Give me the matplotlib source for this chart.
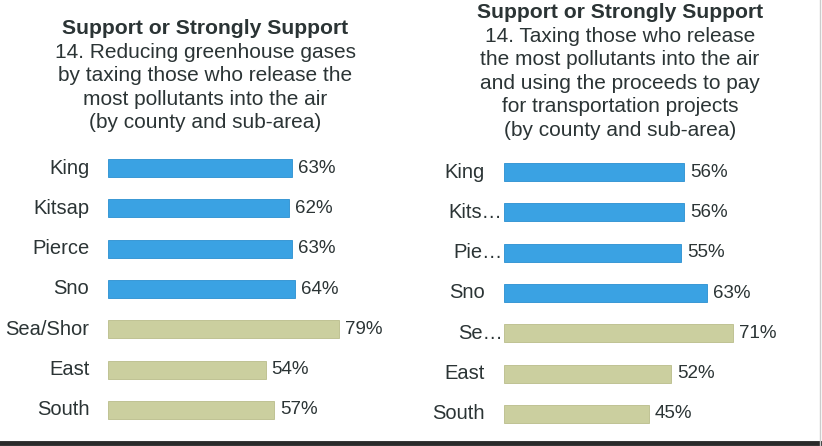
import matplotlib.pyplot as plt
from matplotlib.lines import Line2D

plt.rcParams['font.family'] = ['Liberation Sans', 'DejaVu Sans']

# data
areas_left = ['King', 'Kitsap', 'Pierce', 'Sno', 'Sea/Shor', 'East', 'South']
support_left = [63, 62, 63, 64, 79, 54, 57]

areas_right = ['King', 'Kits\u2026', 'Pie\u2026', 'Sno', 'Se\u2026', 'East', 'South']
support_right = [56, 56, 55, 63, 71, 52, 45]

is_county = [True, True, True, True, False, False, False]

title_left = ['Support or Strongly Support',
              '14. Reducing greenhouse gases',
              'by taxing those who release the',
              'most pollutants into the air',
              '(by county and sub-area)']
title_right = ['Support or Strongly Support',
               '14. Taxing those who release',
               'the most pollutants into the air',
               'and using the proceeds to pay',
               'for transportation projects',
               '(by county and sub-area)']

blue = '#3aa2e3'
khaki = '#cbcf9f'
txt = '#2b3435'

W, H = 822, 446
fig = plt.figure(figsize=(W / 100, H / 100), dpi=100)
fig.patch.set_facecolor('white')


def px_axes(x0, top, w, h):
    return fig.add_axes([x0 / W, (H - top - h) / H, w / W, h / H])


def draw_panel(ax, labels, vals, label_gap):
    colors = [blue if c else khaki for c in is_county]
    edges = ['#2a8fd0' if c else '#b9bd8a' for c in is_county]
    y = list(range(len(labels)))
    ax.barh(y, vals, height=0.45, color=colors, edgecolor=edges, linewidth=0.6)
    ax.set_xlim(0, 100)
    ax.set_ylim(len(labels) - 0.5, -0.5)
    ax.axis('off')
    for i, (lab, v) in enumerate(zip(labels, vals)):
        ax.annotate(f'{v}%', (v, i), xytext=(4.3, 0), textcoords='offset points',
                    ha='left', va='center', fontsize=13.5, color=txt)
        off = -1 if lab.endswith('\u2026') else -label_gap
        ax.annotate(lab, (0, i), xytext=(off, 0), textcoords='offset points',
                    ha='right', va='center', fontsize=14.5, color=txt)


ax1 = px_axes(108, 148, 292, 282)
draw_panel(ax1, areas_left, support_left, 13.5)

ax2 = px_axes(504, 152, 322, 282)
draw_panel(ax2, areas_right, support_right, 14)

# titles, one line at a time
for cx, y0, lines in [(205, 29, title_left), (620, 13, title_right)]:
    for k, line in enumerate(lines):
        fig.text(cx / W, 1 - (y0 + k * 23.4) / H, line, ha='center', va='center',
                 fontsize=15 if k else 15.2, fontweight='bold' if k == 0 else 'normal',
                 color=txt)

# scan frame lines
fig.add_artist(Line2D([0, 1], [3 / H, 3 / H], color='#2a2a2a', lw=3.5))
fig.add_artist(Line2D([820 / W, 820 / W], [0, 1], color='#cccccc', lw=1))

fig.savefig('out.png', dpi=100)
